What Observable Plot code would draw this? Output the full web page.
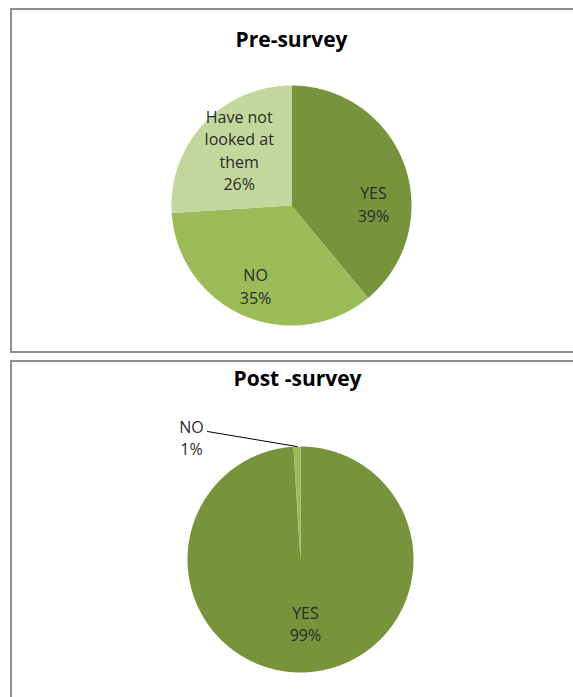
<!DOCTYPE html>
<html><head><meta charset="utf-8">
<script src="https://cdn.jsdelivr.net/npm/d3@7"></script>
<script src="https://cdn.jsdelivr.net/npm/@observablehq/plot@0.6"></script>
<style>
html,body{margin:0;padding:0;background:#fff;}
body{width:573px;height:697px;overflow:hidden;position:relative;font-family:"Open Sans",sans-serif;}
.panel{position:absolute;left:10px;border:2px solid #8d8d8d;background:#fff;overflow:hidden;}
#p1{top:8px;width:570px;height:341px;}
#p2{top:360px;width:570px;height:340px;}
</style></head><body>
<div class="panel" id="p1"></div>
<div class="panel" id="p2"></div>
<script>
// ---- data ----
const preTitle = "Pre-survey";
const preCategories = ["YES", "NO", "Have not looked at them"];
const preLabels = ["YES", "NO", "Have not\nlooked at\nthem"];
const preValues = [39, 35, 26];

const postTitle = "Post -survey";
const postCategories = ["YES", "NO"];
const postLabels = ["YES", "NO"];
const postValues = [99, 1];

// ---- style / layout ----
const colors = {"YES": "#77933C", "NO": "#9BBB59", "Have not looked at them": "#C3D69B"};
// label placement: angle (deg, clockwise from 12 o'clock) and radius (in pie radii)
const preLabelPos = [{a: 88.6, r: 0.683}, {a: 204.2, r: 0.73}, {a: 317.1, r: 0.64}];
const postLabelPos = [{a: 175.5, r: 0.56}, {a: 318.4, r: 1.454, leader: {a: 324, r: 1.40}}];

function slices(categories, values) {
  const arcs = d3.pie().sort(null).value(d => d.v)(categories.map((c, i) => ({c, v: values[i]})));
  const pts = [];
  arcs.forEach(a => {
    const n = Math.max(2, Math.ceil((a.endAngle - a.startAngle) / 0.01));
    pts.push({key: a.data.c, x: 0, y: 0});
    for (let k = 0; k <= n; k++) {
      const t = a.startAngle + (a.endAngle - a.startAngle) * k / n;
      pts.push({key: a.data.c, x: Math.sin(t), y: Math.cos(t)});
    }
    pts.push({key: a.data.c, x: 0, y: 0});
  });
  return {arcs, pts};
}
const rad = d => d * Math.PI / 180;

function pieChart({title, categories, labels, values, pos, width, height, cx, cy, R, titleDy, titleDx}) {
  const {arcs, pts} = slices(categories, values);
  const lab = arcs.map((a, i) => ({
    text: labels[i] + "\n" + values[i] + "%",
    x: pos[i].r * Math.sin(rad(pos[i].a)),
    y: pos[i].r * Math.cos(rad(pos[i].a))
  }));
  const leaders = [];
  arcs.forEach((a, i) => {
    if (pos[i].leader) {
      const m = (a.startAngle + a.endAngle) / 2;
      const L = pos[i].leader;
      leaders.push({i, x: L.r * Math.sin(rad(L.a)), y: L.r * Math.cos(rad(L.a))});
      leaders.push({i, x: Math.sin(m), y: Math.cos(m)});
    }
  });
  return Plot.plot({
    width, height,
    margin: 0,
    style: {fontFamily: "'Open Sans', sans-serif", background: "transparent", overflow: "visible"},
    x: {domain: [-cx / R, (width - cx) / R], axis: null},
    y: {domain: [-(height - cy) / R, cy / R], axis: null},
    color: {domain: categories, range: categories.map(c => colors[c])},
    marks: [
      Plot.line(pts, {x: "x", y: "y", z: "key", fill: "key", stroke: "none", curve: "linear"}),
      Plot.line(leaders, {x: "x", y: "y", z: "i", stroke: "#000", strokeWidth: 1}),
      Plot.text(lab, {x: "x", y: "y", text: "text", fontSize: 16, lineHeight: 1.41, fill: "#2b2b2b", lineAnchor: "middle"}),
      Plot.text([title], {frameAnchor: "top", text: d => d, dy: titleDy, dx: titleDx, fontSize: 21, fontWeight: "bold", fill: "#000", lineAnchor: "middle"})
    ]
  });
}

document.getElementById("p1").appendChild(pieChart({
  title: preTitle, categories: preCategories, labels: preLabels, values: preValues, pos: preLabelPos,
  width: 570, height: 341, cx: 279, cy: 195, R: 120, titleDy: 30, titleDx: -6
}));
document.getElementById("p2").appendChild(pieChart({
  title: postTitle, categories: postCategories, labels: postLabels, values: postValues, pos: postLabelPos,
  width: 570, height: 340, cx: 288, cy: 197, R: 113, titleDy: 17, titleDx: 0
}));
</script>
</body></html>
